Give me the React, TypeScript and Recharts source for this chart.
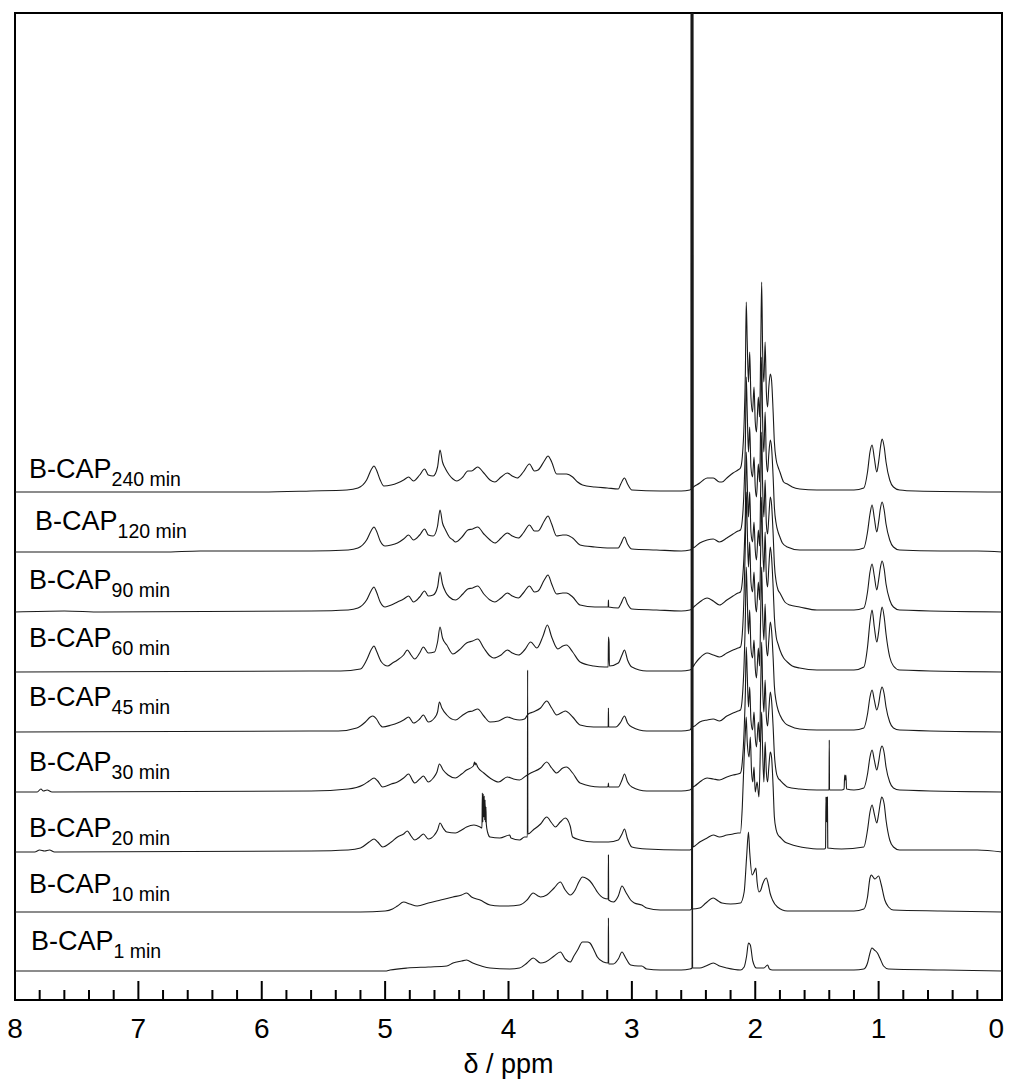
import React from 'react';
import { LineChart, Line, XAxis, YAxis, Customized } from 'recharts';

type Pt = [number, number];

// Chemical shift (ppm), intensity (relative units)
const s240: Pt[] = [[8,0],[6.0,0],[5.6,1],[5.31,2],[5.22,4],[5.15,12],[5.11,23],[5.09,26],[5.07,22],[5.04,12],[5.01,6],[4.95,7],[4.9,9],[4.85,12],[4.81,15],[4.77,11],[4.72,17],[4.68,23],[4.65,17],[4.61,16],[4.575,25],[4.555,42],[4.535,30],[4.51,23],[4.48,17],[4.45,13],[4.42,11],[4.37,15],[4.33,21],[4.3,21],[4.25,25],[4.2,19],[4.15,12],[4.11,10],[4.06,15],[4.01,19],[3.97,16],[3.93,14],[3.88,20],[3.83,28],[3.79,21],[3.76,22],[3.71,31],[3.68,36],[3.65,30],[3.61,18],[3.56,18],[3.53,18],[3.48,15],[3.44,10],[3.40,7],[3.3,5],[3.2,4],[3.11,3],[3.09,8],[3.06,14],[3.035,8],[3.0,2],[2.77,1],[2.6,1],[2.53,2],[2.52,3],[2.518,1000],[2.516,4],[2.49,6],[2.45,9],[2.42,12],[2.39,14],[2.34,14],[2.29,10],[2.27,10],[2.23,14],[2.18,19],[2.14,22],[2.12,24],[2.105,35],[2.09,70],[2.08,120],[2.073,190],[2.065,150],[2.055,110],[2.045,140],[2.035,95],[2.022,80],[2.01,105],[2.0,70],[1.99,60],[1.975,95],[1.965,75],[1.955,150],[1.948,210],[1.94,140],[1.93,110],[1.92,150],[1.91,100],[1.9,85],[1.89,105],[1.878,118],[1.868,112],[1.855,80],[1.845,50],[1.83,32],[1.815,25],[1.8,20],[1.77,10],[1.74,8],[1.7,5],[1.64,3],[1.5,2],[1.2,2],[1.12,4],[1.09,20],[1.07,40],[1.053,47],[1.035,34],[1.015,20],[1.0,30],[0.985,45],[0.972,53],[0.955,45],[0.94,30],[0.91,12],[0.88,5],[0.83,2],[0.7,1],[0,0]];

const s120: Pt[] = [[8,0],[6.8,0],[6.5,1],[5.6,1],[5.3,2],[5.22,4],[5.15,12],[5.11,22],[5.09,25],[5.07,21],[5.04,11],[5.0,6],[4.95,7],[4.9,9],[4.85,13],[4.81,17],[4.77,12],[4.72,17],[4.68,23],[4.65,17],[4.61,16],[4.575,26],[4.555,42],[4.535,29],[4.51,22],[4.48,15],[4.45,12],[4.43,10],[4.37,16],[4.33,22],[4.29,23],[4.25,25],[4.2,18],[4.15,12],[4.11,9],[4.06,14],[4.01,19],[3.97,16],[3.92,14],[3.88,19],[3.83,27],[3.79,21],[3.76,21],[3.71,31],[3.68,36],[3.65,28],[3.61,16],[3.56,17],[3.53,17],[3.48,14],[3.42,7],[3.3,5],[3.2,4],[3.11,4],[3.09,8],[3.06,15],[3.035,8],[3.0,3],[2.8,2],[2.6,1],[2.53,2],[2.51,3],[2.508,1000],[2.506,4],[2.49,5],[2.45,9],[2.39,12],[2.34,13],[2.29,10],[2.23,14],[2.18,18],[2.14,21],[2.12,22],[2.105,32],[2.09,65],[2.08,110],[2.073,175],[2.065,140],[2.055,100],[2.045,125],[2.035,85],[2.022,75],[2.01,95],[2.0,65],[1.99,55],[1.975,88],[1.965,70],[1.955,140],[1.948,195],[1.94,130],[1.93,100],[1.92,140],[1.91,92],[1.9,80],[1.89,98],[1.878,112],[1.868,105],[1.855,75],[1.845,45],[1.83,28],[1.815,20],[1.8,15],[1.78,9],[1.74,5],[1.64,2],[1.2,2],[1.12,4],[1.09,20],[1.07,38],[1.053,47],[1.035,34],[1.015,20],[1.0,30],[0.985,44],[0.972,50],[0.955,42],[0.94,28],[0.91,12],[0.88,5],[0.83,2],[0.5,1],[0.2,1],[0,0]];

const s90: Pt[] = [[8,0],[7.6,1],[7.3,0],[5.6,1],[5.3,2],[5.22,4],[5.15,12],[5.11,22],[5.09,25],[5.07,20],[5.04,10],[5.0,5],[4.95,7],[4.9,10],[4.85,13],[4.81,16],[4.77,10],[4.72,15],[4.68,21],[4.65,16],[4.61,17],[4.575,25],[4.555,40],[4.535,28],[4.51,20],[4.48,15],[4.43,12],[4.37,18],[4.33,23],[4.29,24],[4.25,26],[4.2,18],[4.15,12],[4.11,10],[4.06,14],[4.01,19],[3.97,16],[3.92,14],[3.88,19],[3.83,26],[3.79,20],[3.76,21],[3.71,32],[3.68,37],[3.65,28],[3.61,18],[3.56,19],[3.53,19],[3.48,15],[3.42,7],[3.3,5],[3.22,5],[3.192,5],[3.19,12],[3.188,5],[3.11,4],[3.09,8],[3.06,15],[3.035,8],[3.0,3],[2.8,2],[2.6,1],[2.53,2],[2.515,3],[2.513,1000],[2.511,4],[2.49,6],[2.45,10],[2.39,14],[2.34,11],[2.29,7],[2.23,12],[2.18,16],[2.14,19],[2.12,20],[2.105,30],[2.09,60],[2.08,100],[2.073,160],[2.065,130],[2.055,95],[2.045,120],[2.035,80],[2.022,70],[2.01,90],[2.0,62],[1.99,52],[1.975,82],[1.965,66],[1.955,130],[1.948,180],[1.94,125],[1.93,95],[1.92,132],[1.91,88],[1.9,78],[1.89,95],[1.878,115],[1.868,108],[1.855,78],[1.845,48],[1.83,30],[1.815,22],[1.8,19],[1.76,10],[1.72,7],[1.64,5],[1.5,2],[1.2,2],[1.12,4],[1.09,20],[1.07,40],[1.053,48],[1.035,36],[1.015,22],[1.0,32],[0.985,45],[0.972,51],[0.955,43],[0.94,28],[0.91,12],[0.88,5],[0.83,2],[0,0]];

const s60: Pt[] = [[8,0],[5.6,1],[5.36,1],[5.2,3],[5.15,12],[5.11,23],[5.09,26],[5.07,21],[5.03,10],[4.98,6],[4.94,9],[4.9,12],[4.85,17],[4.82,22],[4.79,17],[4.76,13],[4.72,19],[4.69,25],[4.65,19],[4.6,20],[4.575,30],[4.555,45],[4.535,34],[4.5,27],[4.45,18],[4.4,22],[4.34,29],[4.29,31],[4.25,33],[4.2,24],[4.15,16],[4.12,14],[4.06,17],[4.01,22],[3.97,19],[3.92,17],[3.87,22],[3.82,30],[3.77,24],[3.72,36],[3.685,47],[3.65,35],[3.6,23],[3.56,26],[3.53,27],[3.48,20],[3.42,10],[3.31,6],[3.22,5],[3.192,5],[3.19,35],[3.185,30],[3.182,6],[3.11,9],[3.08,17],[3.06,22],[3.035,12],[3.0,5],[2.88,1],[2.6,1],[2.53,2],[2.51,4],[2.508,1000],[2.506,5],[2.49,8],[2.45,14],[2.39,19],[2.34,17],[2.29,15],[2.23,19],[2.18,22],[2.14,24],[2.12,25],[2.105,38],[2.09,80],[2.08,130],[2.073,180],[2.065,145],[2.055,105],[2.045,130],[2.035,90],[2.022,80],[2.01,100],[2.0,70],[1.99,60],[1.975,90],[1.965,72],[1.955,130],[1.948,175],[1.94,128],[1.93,100],[1.92,140],[1.91,95],[1.9,85],[1.89,105],[1.878,125],[1.868,115],[1.855,85],[1.845,55],[1.83,35],[1.815,28],[1.8,22],[1.77,14],[1.74,10],[1.7,6],[1.64,4],[1.5,2],[1.2,2],[1.12,5],[1.09,25],[1.07,50],[1.053,62],[1.035,45],[1.015,30],[1.0,40],[0.985,56],[0.972,65],[0.955,55],[0.94,38],[0.91,15],[0.88,6],[0.83,2],[0,0]];

const s45: Pt[] = [[8,0],[5.6,1],[5.38,1],[5.23,4],[5.16,10],[5.12,15],[5.1,16],[5.07,13],[5.04,7],[5.02,5],[4.95,7],[4.9,9],[4.85,12],[4.81,15],[4.77,9],[4.72,13],[4.69,17],[4.65,10],[4.6,14],[4.575,20],[4.56,30],[4.54,24],[4.5,17],[4.43,12],[4.38,16],[4.33,20],[4.29,21],[4.25,23],[4.2,16],[4.15,10],[4.08,11],[4.01,15],[3.96,13],[3.91,12],[3.87,13],[3.84,18],[3.8,20],[3.74,24],[3.69,31],[3.65,24],[3.61,17],[3.56,20],[3.54,21],[3.48,15],[3.42,7],[3.31,5],[3.22,5],[3.192,5],[3.19,24],[3.188,5],[3.13,5],[3.09,10],[3.06,16],[3.035,9],[3.0,5],[2.88,1],[2.6,1],[2.53,2],[2.52,4],[2.518,1000],[2.516,5],[2.49,6],[2.45,10],[2.39,12],[2.34,13],[2.29,11],[2.23,16],[2.18,19],[2.14,21],[2.12,22],[2.105,34],[2.09,70],[2.08,115],[2.073,165],[2.065,135],[2.055,98],[2.045,122],[2.035,84],[2.022,74],[2.01,92],[2.0,64],[1.99,54],[1.975,84],[1.965,66],[1.955,125],[1.948,165],[1.94,118],[1.93,92],[1.92,128],[1.91,86],[1.9,76],[1.89,92],[1.878,110],[1.868,102],[1.855,74],[1.845,46],[1.83,30],[1.815,22],[1.8,17],[1.76,9],[1.72,6],[1.64,3],[1.5,2],[1.2,2],[1.12,4],[1.09,18],[1.07,35],[1.053,42],[1.035,32],[1.015,22],[1.0,28],[0.985,40],[0.972,45],[0.955,38],[0.94,25],[0.91,10],[0.88,4],[0.83,2],[0,0]];

const s30: Pt[] = [[8,0],[7.82,0],[7.79,3],[7.77,1],[7.74,2],[7.7,0],[5.6,1],[5.3,3],[5.18,7],[5.13,11],[5.09,14],[5.06,11],[5.02,5],[4.95,8],[4.9,10],[4.85,14],[4.81,18],[4.77,10],[4.76,9],[4.72,13],[4.69,16],[4.65,10],[4.61,14],[4.58,20],[4.56,28],[4.53,22],[4.49,17],[4.43,14],[4.38,18],[4.34,22],[4.285,26],[4.275,30],[4.27,27],[4.265,29],[4.25,25],[4.2,19],[4.15,14],[4.08,10],[4.01,15],[3.96,13],[3.91,12],[3.86,16],[3.82,19],[3.74,24],[3.69,30],[3.65,24],[3.61,19],[3.56,24],[3.53,25],[3.48,19],[3.42,9],[3.26,5],[3.2,5],[3.192,6],[3.19,9],[3.188,5],[3.11,5],[3.08,12],[3.06,18],[3.035,10],[3.0,5],[2.88,1],[2.6,1],[2.53,2],[2.514,4],[2.512,1000],[2.51,5],[2.49,6],[2.45,10],[2.39,14],[2.34,13],[2.29,12],[2.23,15],[2.18,17],[2.14,18],[2.12,19],[2.105,30],[2.09,62],[2.08,100],[2.073,145],[2.065,118],[2.055,85],[2.045,105],[2.035,72],[2.022,62],[2.01,80],[2.0,55],[1.99,45],[1.975,70],[1.965,50],[1.955,110],[1.948,150],[1.94,105],[1.93,80],[1.92,112],[1.91,75],[1.9,66],[1.89,82],[1.878,100],[1.868,92],[1.855,65],[1.845,38],[1.83,20],[1.815,14],[1.8,12],[1.76,7],[1.74,5],[1.64,3],[1.5,2],[1.402,2],[1.4,52],[1.398,2],[1.3,2],[1.28,3],[1.275,17],[1.27,12],[1.265,17],[1.26,3],[1.2,2],[1.12,4],[1.09,18],[1.07,35],[1.053,42],[1.035,32],[1.015,22],[1.0,30],[0.985,42],[0.972,46],[0.955,39],[0.94,25],[0.91,10],[0.88,4],[0.83,2],[0,0]];

const s20: Pt[] = [[8,0],[7.84,0],[7.8,2],[7.76,1],[7.72,2],[7.68,0],[5.6,1],[5.3,2],[5.2,4],[5.13,10],[5.09,13],[5.06,10],[5.02,5],[4.95,10],[4.9,15],[4.85,18],[4.82,21],[4.79,16],[4.76,12],[4.72,15],[4.69,18],[4.65,13],[4.6,17],[4.575,22],[4.555,29],[4.53,24],[4.5,20],[4.43,19],[4.38,22],[4.34,25],[4.28,27],[4.23,25],[4.215,24],[4.212,59],[4.208,30],[4.205,58],[4.2,35],[4.197,56],[4.193,32],[4.19,52],[4.186,30],[4.183,45],[4.18,28],[4.17,20],[4.15,15],[4.07,14],[3.99,17],[3.98,14],[3.91,12],[3.87,15],[3.847,15],[3.845,182],[3.843,18],[3.8,22],[3.74,28],[3.69,35],[3.65,29],[3.62,25],[3.58,30],[3.54,34],[3.5,26],[3.48,15],[3.42,12],[3.31,10],[3.19,10],[3.11,12],[3.08,18],[3.06,23],[3.035,13],[3.0,5],[2.88,3],[2.6,2],[2.53,2],[2.508,4],[2.506,1000],[2.504,5],[2.49,6],[2.45,10],[2.39,14],[2.34,17],[2.29,15],[2.23,17],[2.18,18],[2.14,19],[2.12,19],[2.105,45],[2.09,95],[2.08,120],[2.073,135],[2.065,110],[2.05,95],[2.04,115],[2.03,80],[2.02,70],[2.01,85],[2.0,60],[1.985,70],[1.97,55],[1.955,120],[1.948,140],[1.94,100],[1.93,70],[1.92,110],[1.91,80],[1.9,70],[1.89,85],[1.878,100],[1.868,95],[1.855,65],[1.845,35],[1.83,22],[1.815,17],[1.8,15],[1.76,10],[1.72,8],[1.58,4],[1.5,3],[1.44,3],[1.43,4],[1.427,55],[1.424,30],[1.421,55],[1.418,30],[1.415,55],[1.412,4],[1.3,3],[1.12,5],[1.09,22],[1.07,40],[1.053,47],[1.035,38],[1.015,29],[1.0,38],[0.985,50],[0.975,55],[0.955,48],[0.94,32],[0.91,12],[0.88,5],[0.83,2],[0.2,2],[0,0]];

const s10: Pt[] = [[8,0],[5.2,0],[5.0,1],[4.94,3],[4.9,6],[4.85,10],[4.8,8],[4.74,6],[4.65,9],[4.55,12],[4.45,15],[4.38,17],[4.34,19],[4.30,15],[4.23,12],[4.15,7],[4.07,6],[4.01,6],[3.91,7],[3.85,12],[3.8,19],[3.76,16],[3.74,15],[3.69,17],[3.63,24],[3.58,30],[3.54,22],[3.5,17],[3.46,22],[3.43,30],[3.40,35],[3.36,33],[3.34,31],[3.3,24],[3.28,20],[3.23,14],[3.192,13],[3.19,57],[3.188,12],[3.15,10],[3.11,16],[3.08,26],[3.05,20],[3.01,12],[2.98,9],[2.92,7],[2.88,4],[2.77,2],[2.6,2],[2.53,2],[2.516,3],[2.514,1000],[2.512,3],[2.45,4],[2.4,9],[2.34,14],[2.3,11],[2.27,9],[2.2,8],[2.12,9],[2.09,20],[2.07,55],[2.055,80],[2.045,60],[2.025,37],[2.01,40],[1.995,44],[1.985,30],[1.97,20],[1.955,22],[1.94,28],[1.91,34],[1.895,28],[1.88,19],[1.86,12],[1.82,5],[1.74,1],[1.2,1],[1.12,3],[1.09,15],[1.07,34],[1.06,37],[1.045,35],[1.03,33],[1.0,36],[0.98,28],[0.95,12],[0.92,5],[0.88,2],[0.5,1],[0,0]];

const s1: Pt[] = [[8,0],[5.0,0],[4.96,1],[4.82,3],[4.65,4],[4.5,5],[4.45,8],[4.38,10],[4.34,11],[4.29,8],[4.22,5],[4.15,3],[3.99,2],[3.91,3],[3.85,8],[3.8,13],[3.74,8],[3.7,9],[3.63,15],[3.58,19],[3.54,12],[3.5,9],[3.47,15],[3.44,21],[3.4,29],[3.36,29],[3.34,28],[3.3,19],[3.28,14],[3.23,9],[3.192,8],[3.19,53],[3.188,7],[3.15,7],[3.11,12],[3.08,19],[3.05,13],[3.01,6],[2.95,5],[2.92,5],[2.88,2],[2.77,1],[2.6,1],[2.53,2],[2.512,3],[2.51,1000],[2.508,3],[2.45,3],[2.4,5],[2.34,8],[2.29,5],[2.23,3],[2.12,1],[2.09,4],[2.07,15],[2.055,28],[2.04,26],[2.02,10],[1.99,3],[1.93,3],[1.9,6],[1.885,2],[1.86,1],[1.2,1],[1.12,2],[1.09,8],[1.07,18],[1.055,23],[1.035,21],[1.01,18],[0.99,13],[0.96,5],[0.92,2],[0.5,1],[0,0]];

const SUBSCRIPTS = ['240 min', '120 min', '90 min', '60 min', '45 min', '30 min', '20 min', '10 min', '1 min'];
const SPECTRA = [s240, s120, s90, s60, s45, s30, s20, s10, s1];
const X_TICKS = [0, 0.2, 0.4, 0.6, 0.8, 1, 1.2, 1.4, 1.6, 1.8, 2, 2.2, 2.4, 2.6, 2.8, 3, 3.2, 3.4, 3.6, 3.8, 4, 4.2, 4.4, 4.6, 4.8, 5, 5.2, 5.4, 5.6, 5.8, 6, 6.2, 6.4, 6.6, 6.8, 7, 7.2, 7.4, 7.6, 7.8, 8];

// layout (stack offsets and label placement)
const BASES = [508, 448, 388, 328, 268, 208, 148, 88, 29];
const LABEL_POS = [[21, 470], [27, 522], [21, 581], [21, 639], [21, 698], [21, 763], [21, 829], [21, 885], [23, 942]];

const W = 996;
const H = 1071;
const M = { top: 5, right: 2, bottom: 0, left: 7 };
const PLOT_W = W - M.left - M.right;
const PLOT_H = 987;
const X_AXIS_H = H - M.top - PLOT_H;
const FONT = '"Liberation Sans", Arial, sans-serif';

const renderTick = (props: any) => {
  const { x, y, payload } = props;
  const v = payload.value as number;
  const major = Math.abs(v - Math.round(v)) < 1e-6;
  const atRightEdge = v === 0;
  return (
    <g>
      <line x1={x} x2={x} y1={y} y2={y - (major ? 19 : 10)} stroke="#000" strokeWidth={2} />
      {major && (
        <text
          x={atRightEdge ? x + 2 : x}
          y={y + 38}
          textAnchor={atRightEdge ? 'end' : 'middle'}
          fontSize={28}
          fontFamily={FONT}
          fill="#000"
        >
          {Math.round(v)}
        </text>
      )}
    </g>
  );
};

const Overlay = () => (
  <g>
    <rect x={M.left} y={M.top} width={PLOT_W} height={PLOT_H} fill="none" stroke="#000" strokeWidth={2} />
    {SUBSCRIPTS.map((s, i) => (
      <text key={s} x={LABEL_POS[i][0]} y={LABEL_POS[i][1]} fontSize={27} fontFamily={FONT} fill="#000">
        B-CAP<tspan dy={8} fontSize={19.5}>{s}</tspan>
      </text>
    ))}
    <text x={M.left + PLOT_W / 2} y={1065} textAnchor="middle" fontSize={27} fontFamily={FONT} fill="#000">
      δ / ppm
    </text>
  </g>
);

export default function App() {
  const series = SPECTRA.map((pts, i) => pts.map(([x, h]) => ({ x, y: BASES[i] + h })));
  return (
    <div style={{ width: W, height: H, background: '#fff' }}>
      <LineChart width={W} height={H} margin={M}>
        <XAxis
          type="number"
          dataKey="x"
          domain={[0, 8]}
          reversed
          ticks={X_TICKS}
          interval={0}
          tickSize={0}
          tickMargin={0}
          tickLine={false}
          tick={renderTick}
          axisLine={{ stroke: '#000', strokeWidth: 2 }}
          height={X_AXIS_H}
        />
        <YAxis type="number" dataKey="y" domain={[0, PLOT_H]} allowDataOverflow hide />
        {series.map((d, i) => (
          <Line
            key={SUBSCRIPTS[i]}
            data={d}
            dataKey="y"
            type="monotone"
            stroke="#1a1a1a"
            strokeWidth={1.1}
            dot={false}
            activeDot={false}
            isAnimationActive={false}
          />
        ))}
        <Customized component={Overlay} />
      </LineChart>
    </div>
  );
}
